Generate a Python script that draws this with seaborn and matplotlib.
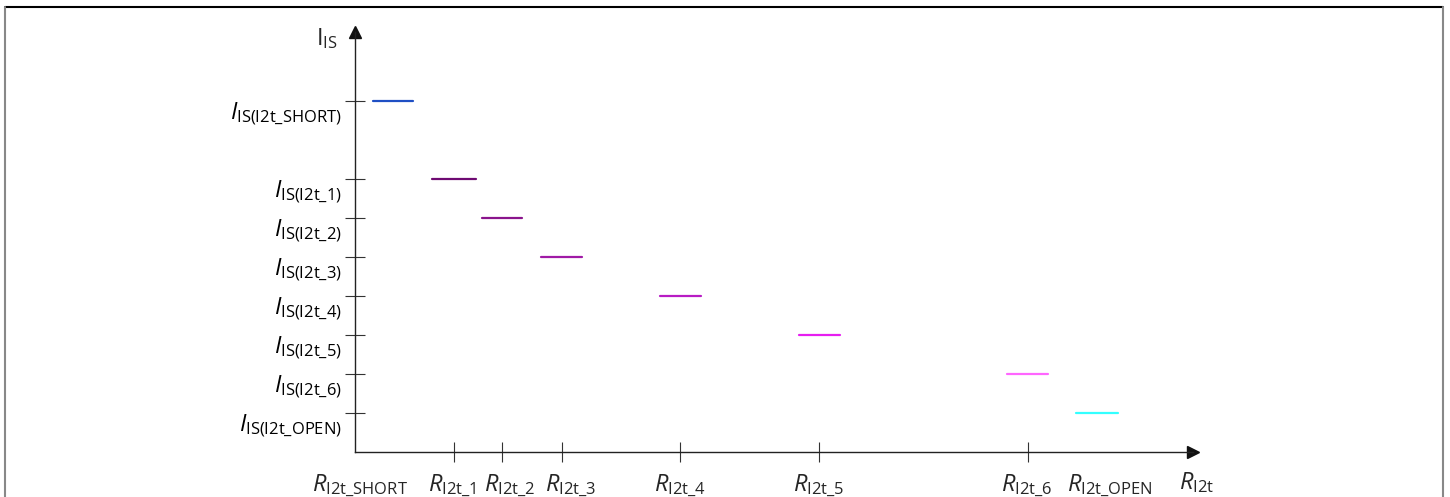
import matplotlib
matplotlib.use("Agg")
import matplotlib.pyplot as plt
from matplotlib.lines import Line2D
import pandas as pd
import seaborn as sns

# current levels (in steps) and resistance ranges for each I2t setting
settings = ["SHORT", "1", "2", "3", "4", "5", "6", "OPEN"]
i_level = [9, 7, 6, 5, 4, 3, 2, 1]
r_start = [18, 77, 127, 186, 305, 444, 652, 721]
r_end = [58, 121, 167, 227, 346, 485, 693, 763]
r_tick = [99, 147, 207, 325, 464, 673]          # R_I2t_1 .. R_I2t_6
r_label_pos = [5, 97, 155, 216, 325, 464, 672, 755]
seg_colors = ["#1f4fc4", "#6e0a72", "#8a148c", "#a01aa6", "#b81cc4",
              "#e61ef0", "#ff66ff", "#33ffff"]

rows = []
for s, lvl, a, b in zip(settings, i_level, r_start, r_end):
    rows.append({"setting": s, "r": a, "i": lvl})
    rows.append({"setting": s, "r": b, "i": lvl})
df = pd.DataFrame(rows)

sns.set_theme(style="white")
plt.rcParams["font.family"] = ["Open Sans", "DejaVu Sans"]
plt.rcParams["mathtext.fontset"] = "custom"
plt.rcParams["mathtext.rm"] = "Open Sans"
plt.rcParams["mathtext.it"] = "Open Sans:italic"

W, H = 1450, 497
fig = plt.figure(figsize=(W / 100, H / 100), dpi=100)
x0, y0, x1, y1 = 355, 452, 1193, 32
ax = fig.add_axes([x0 / W, (H - y0) / H, (x1 - x0) / W, (y0 - y1) / H])

sns.lineplot(data=df, x="r", y="i", hue="setting", palette=seg_colors,
             estimator=None, sort=False, legend=False, lw=1.6, ax=ax)

ax.set_xlim(0, x1 - x0)
ax.set_ylim(0, (y0 - y1) / 39)
for side in ["top", "right"]:
    ax.spines[side].set_visible(False)
for side in ["left", "bottom"]:
    ax.spines[side].set_color("#222222")
    ax.spines[side].set_linewidth(1.0)

# arrow heads
ax.plot(1, 0, ">", color="#111111", ms=9, transform=ax.transAxes, clip_on=False)
ax.plot(0, 1, "^", color="#111111", ms=9, transform=ax.transAxes, clip_on=False)

fs = 17
ax.set_yticks(i_level)
ax.set_yticklabels([r"$\mathit{I}_{\mathrm{IS(I2t\_%s)}}$" % s for s in settings],
                   fontsize=fs, va="top")
# tick marks at R_I2t_1..6, labels (minor ticks) at their own positions
ax.xaxis.remove_overlapping_locs = False
ax.set_xticks(r_tick)
ax.set_xticklabels([])
ax.set_xticks(r_label_pos, minor=True)
ax.set_xticklabels([r"$\mathit{R}_{\mathrm{I2t\_%s}}$" % s for s in settings],
                   minor=True, fontsize=fs)
ax.tick_params(axis="both", which="major", direction="inout", length=14.4,
               width=0.8, color="#333333", labelcolor="black", left=True,
               bottom=True)
ax.tick_params(axis="y", pad=2)
ax.tick_params(axis="x", which="minor", length=0, bottom=True, pad=15)

ax.set_xlabel("")
ax.set_ylabel("")
ax.text(1.004, -0.043, r"$\mathit{R}_{\mathrm{I2t}}$", transform=ax.transAxes,
        fontsize=fs, ha="center", va="top")
ax.text(-0.033, 0.985, r"$\mathrm{I}_{\mathrm{IS}}$", transform=ax.transAxes,
        fontsize=fs, ha="center", va="center")

# outer frame (open at the bottom)
fig.add_artist(Line2D([5 / W, 1443 / W], [1 - 7 / H, 1 - 7 / H], color="black",
                      lw=1.5, transform=fig.transFigure))
fig.add_artist(Line2D([4.5 / W, 4.5 / W], [0, 1 - 7 / H], color="#888888",
                      lw=1.5, transform=fig.transFigure))
fig.add_artist(Line2D([1443 / W, 1443 / W], [0, 1 - 7 / H], color="#888888",
                      lw=1.5, transform=fig.transFigure))

fig.savefig("out.png", dpi=100)
